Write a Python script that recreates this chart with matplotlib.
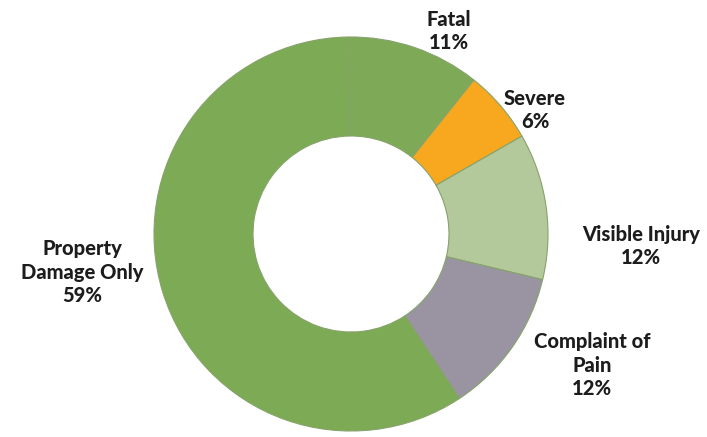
import matplotlib.pyplot as plt

categories = ['Fatal', 'Severe', 'Visible Injury', 'Complaint of\nPain', 'Property\nDamage Only']
shares = [11, 6, 12, 12, 59]
colors = ['#7eaa58', '#f7a81e', '#b3c89b', '#9a94a2', '#7daa55']

# label anchor in pixel coords of the 707x437 canvas (y measured from top)
label_pos = [(449, 31), (535, 110), (641, 246), (592, 365), (82, 272)]

fig = plt.figure(figsize=(7.07, 4.37), dpi=100)
ax = fig.add_axes([0, 0, 1, 1])

ax.pie(shares, colors=colors, startangle=91, counterclock=False,
       center=(351, 437 - 234), radius=197, frame=True,
       wedgeprops=dict(width=99, edgecolor='#86a36b', linewidth=0.8))
ax.set_xlim(0, 707)
ax.set_ylim(0, 437)
ax.set_aspect('equal')
ax.axis('off')

for name, val, (x, y) in zip(categories, shares, label_pos):
    ax.text(x, 437 - y, f'{name}\n{val}%', ha='center', va='center',
            fontsize=14.5, fontweight='black', family='Lato', color='#1c1c1c',
            linespacing=1.3)

fig.savefig('out.png', dpi=100)
